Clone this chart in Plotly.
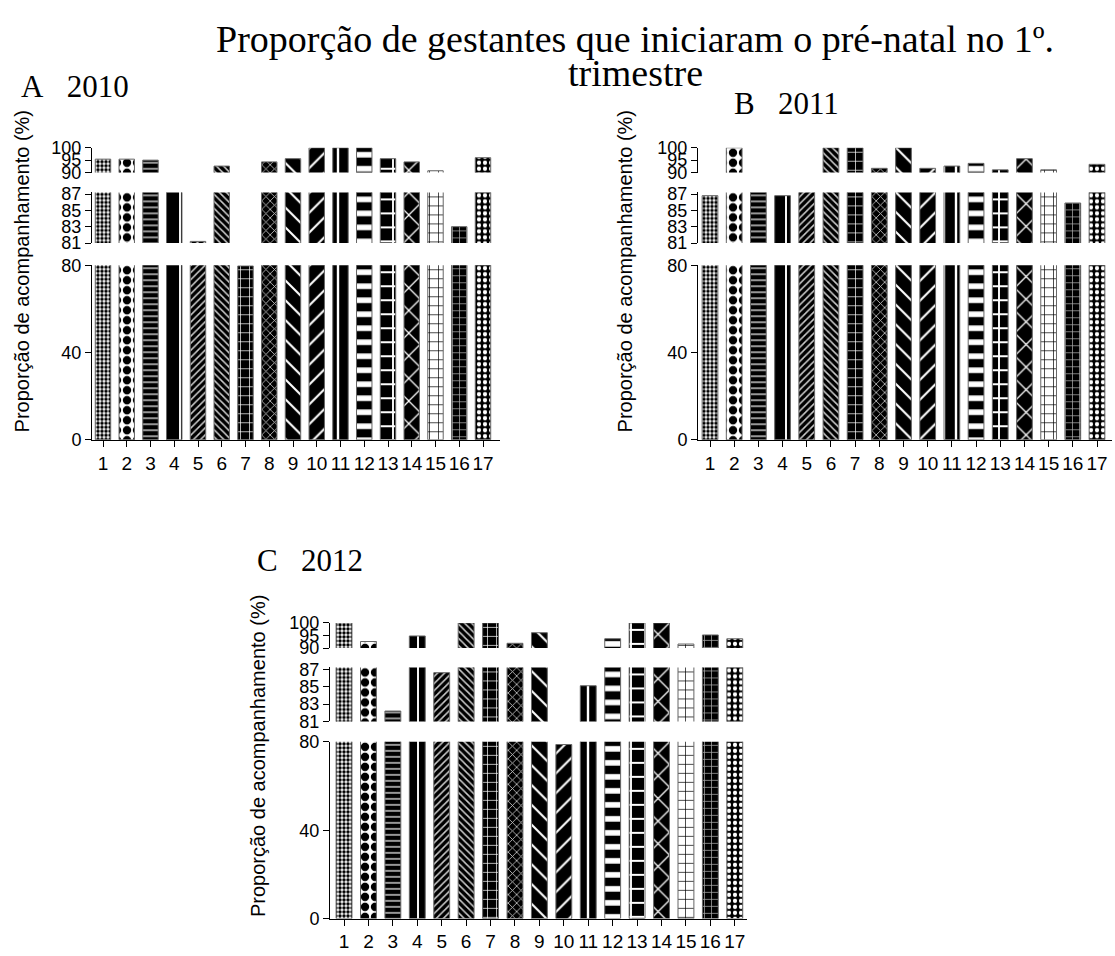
import plotly.graph_objects as go

# ---------------- data ----------------
categories = list(range(1, 18))
values_2010 = [95.4, 95.4, 95.0, 88.5, 81.2, 92.6, 79.7, 94.3, 95.6, 100, 100, 100, 95.6, 94.3, 90.7, 83.0, 96.0]
values_2011 = [86.8, 100, 88.5, 86.8, 88.5, 100, 100, 91.7, 100, 91.7, 92.6, 93.7, 91.1, 95.6, 91.1, 85.9, 93.3]
values_2012 = [100, 92.6, 82.2, 94.8, 86.6, 100, 100, 91.9, 96.1, 78.8, 85.1, 93.7, 100, 100, 91.6, 95.2, 93.7]
panel_labels = ["A   2010", "B   2011", "C   2012"]
seg_ranges = [(0, 80), (81, 87.2), (90, 100)]
seg_ticks = [[0, 40, 80], [81, 83, 85, 87], [90, 95, 100]]
title_line1 = "Proporção de gestantes que iniciaram o pré-natal no 1º."
title_line2 = "trimestre"
ytitle = "Proporção de acompanhamento (%)"

# ---------------- styles ----------------
W, H = 1115, 956
pat_shape = [".", ".", "-", "|", "/", "\\", "+", "x", "\\", "/", "|", "-", "+", "x", "+", "+", "."]
pat_bg = ["white", "white", "black", "black", "black", "black", "black", "black", "black",
          "black", "black", "black", "black", "black", "white", "black", "black"]
pat_fg = ["black", "black", "#c8c8c8", "white", "#cccccc", "#cccccc", "white", "#cccccc", "white",
          "white", "white", "white", "white", "white", "black", "#aaaaaa", "white"]
pat_size = [4, 10, 6, 16, 5, 5, 9, 6, 14, 14, 12, 14, 14, 16, 9, 7, 6]
pat_sol = [0.6, 0.55, 0.25, 0.12, 0.3, 0.3, 0.15, 0.25, 0.15, 0.15, 0.2, 0.4, 0.25, 0.15, 0.15, 0.2, 0.4]

# panel geometry in pixels
panels = [
    dict(vals=values_2010, x0=92, x1=500, xr=(0.537, 17.716),
         segs=[(439, 260.7), (238, 186.3), (166, 140.7)], yt=(22, 267)),
    dict(vals=values_2011, x0=698, x1=1112, xr=(0.504, 17.62),
         segs=[(439, 260.7), (238, 186.3), (166, 140.7)], yt=(625, 267)),
    dict(vals=values_2012, x0=330, x1=747, xr=(0.426, 17.5),
         segs=[(928, 747.5), (726.7, 671.5), (651.7, 626)], yt=(258, 762)),
]

fig = go.Figure()
layout = dict(width=W, height=H, margin=dict(l=0, r=0, t=0, b=0),
              paper_bgcolor="white", plot_bgcolor="white", showlegend=False,
              font=dict(family="Liberation Sans, Arial", color="black"))
annotations = []
k = 0
for p, pn in enumerate(panels):
    for s in range(3):
        k += 1
        xa = "x" if k == 1 else f"x{k}"
        ya = "y" if k == 1 else f"y{k}"
        xkey = "xaxis" if k == 1 else f"xaxis{k}"
        ykey = "yaxis" if k == 1 else f"yaxis{k}"
        fig.add_trace(go.Bar(
            x=categories, y=pn["vals"], xaxis=xa, yaxis=ya, width=0.65,
            marker=dict(color="black",
                        line=dict(color="#666666", width=1),
                        pattern=dict(shape=pat_shape, bgcolor=pat_bg, fgcolor=pat_fg,
                                     size=pat_size, solidity=pat_sol, fillmode="replace")),
            hoverinfo="x+y"))
        pb, pt = pn["segs"][s]
        layout[xkey] = dict(domain=[pn["x0"] / W, pn["x1"] / W], range=list(pn["xr"]),
                            anchor=ya, visible=(s == 0), showgrid=False, zeroline=False,
                            showline=True, linecolor="black", linewidth=1,
                            ticks="outside", ticklen=6, tickcolor="black",
                            tickvals=categories, ticktext=[str(c) for c in categories],
                            tickfont=dict(size=19, family="Liberation Sans, Arial"),
                            fixedrange=True)
        layout[ykey] = dict(domain=[1 - pb / H, 1 - pt / H], range=list(seg_ranges[s]),
                            anchor=xa, showgrid=False, zeroline=False,
                            showline=True, linecolor="black", linewidth=1,
                            ticks="outside", ticklen=6, tickcolor="black",
                            tickvals=seg_ticks[s], ticktext=[str(t) for t in seg_ticks[s]],
                            tickfont=dict(size=18, family="Liberation Sans, Arial"),
                            fixedrange=True)
    tx, ty = pn["yt"]
    annotations.append(dict(text=ytitle, textangle=-90, xref="paper", yref="paper",
                            x=tx / W, y=1 - ty / H, xanchor="center", yanchor="middle",
                            showarrow=False,
                            font=dict(size=20, family="Liberation Sans, Arial")))

# panel labels
label_pos = [(19, 78), (732, 95), (255, 562)]
for lab, (px, py) in zip(panel_labels, label_pos):
    annotations.append(dict(text=lab.replace(" ", "&nbsp;"), xref="paper", yref="paper",
                            x=px / W, y=1 - py / H, xanchor="left", yanchor="middle",
                            showarrow=False,
                            font=dict(size=31, family="Liberation Serif, Times New Roman")))
# title (two lines)
for txt, py in [(title_line1, 30), (title_line2, 64)]:
    annotations.append(dict(text=txt, xref="paper", yref="paper", x=635 / W, y=1 - py / H,
                            xanchor="center", yanchor="middle", showarrow=False,
                            font=dict(size=38, family="Liberation Serif, Times New Roman")))
layout["annotations"] = annotations
fig.update_layout(**layout)
fig.write_html("out.html", config={"displayModeBar": False},
               post_script="document.body.style.margin='0';document.body.style.overflow='hidden';")
